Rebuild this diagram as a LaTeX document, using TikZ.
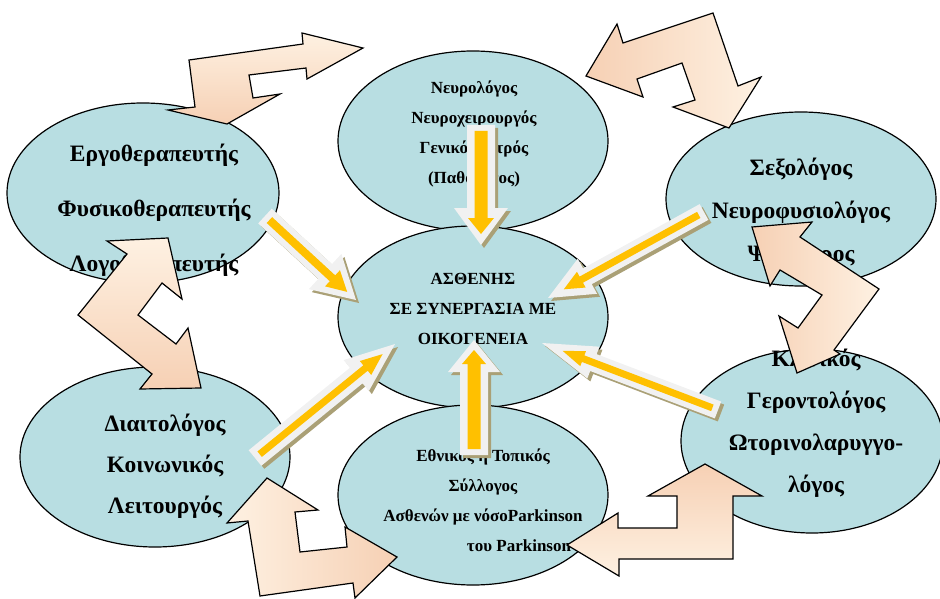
\documentclass[tikz,border=0pt]{standalone}
\usepackage{fontspec}
\setmainfont{Liberation Serif}
\usetikzlibrary{calc,shapes.geometric}

\definecolor{ovalblue}{RGB}{184,222,226}
\definecolor{peachdark}{RGB}{246,208,180}
\definecolor{peachlight}{RGB}{254,241,226}
\definecolor{glowgray}{RGB}{241,241,241}
\definecolor{glowtan}{RGB}{170,160,118}
\definecolor{coreyellow}{RGB}{255,192,0}

\tikzset{
  oval/.style={ellipse, draw=black, line width=1.2pt, fill=ovalblue, inner sep=0pt},
  bigtext/.style={align=center, font=\bfseries\fontsize{23.5}{#1}\selectfont},
  smalltext/.style={align=center, font=\bfseries\fontsize{17}{30}\selectfont},
  bentarrow/.style={draw=black, line width=1.2pt, line join=miter},
}

% outline of a block arrow: tail #1, tip #2, head base #3, shaft half width #4, head half width #5
\newcommand\arrowoutline[5]{($(#1)!#4pt!90:(#2)$) -- ($(#3)!#4pt!90:(#2)$) -- ($(#3)!#5pt!90:(#2)$) -- (#2) -- ($(#3)!#5pt!-90:(#2)$) -- ($(#3)!#4pt!-90:(#2)$) -- ($(#1)!#4pt!-90:(#2)$) -- cycle}

% glowing arrow: tail, tip, shaft/2, head/2, head length, core shaft/2, core head/2, core head length, core tip inset
\newcommand\glowarrow[9]{%
  \coordinate (gh) at ($(#2)!#5pt!(#1)$);
  \coordinate (gt) at ($(#2)!#9pt!(#1)$);
  \coordinate (gs) at ($(#1)!6pt!(#2)$);
  \coordinate (gi) at ($(gt)!#8pt!(#1)$);
  \begin{scope}[transform canvas={shift={(3pt,-3pt)}}]
    \fill[glowtan] \arrowoutline{#1}{#2}{gh}{#3}{#4};
  \end{scope}
  \fill[glowgray] \arrowoutline{#1}{#2}{gh}{#3}{#4};
  \fill[coreyellow] \arrowoutline{gs}{gt}{gi}{#6}{#7};
}

\begin{document}
\begin{tikzpicture}[x=1pt,y=-1pt]
\useasboundingbox (0,0) rectangle (940,599);
\clip (0,0) rectangle (940,599);

% team members around the patient
\node[oval, minimum width=272pt, minimum height=180pt] (ergo) at (143,193) {};
\node[oval, minimum width=270pt, minimum height=180pt] (neuro) at (473,141) {};
\node[oval, minimum width=270pt, minimum height=174pt] (sexo) at (801,199) {};
\node[oval, minimum width=270pt, minimum height=182pt] (patient) at (473,317) {};
\node[oval, minimum width=270pt, minimum height=180pt] (diet) at (155,457) {};
\node[oval, minimum width=270pt, minimum height=180pt] (assoc) at (473,495) {};
\node[oval, minimum width=262pt, minimum height=184pt] (geront) at (812,441) {};

\node[bigtext=55] (t-ergo) at (154,210) {Εργοθεραπευτής\\Φυσικοθεραπευτής\\Λογοθεραπευτής};
\node[smalltext] (t-neuro) at (474,134) {Νευρολόγος\\Νευροχειρουργός\\Γενικός Ιατρός\\(Παθολόγος)};
\node[smalltext] (t-patient) at (473,309) {ΑΣΘΕΝΗΣ\\ΣΕ ΣΥΝΕΡΓΑΣΙΑ ΜΕ\\ΟΙΚΟΓΕΝΕΙΑ};
\node[smalltext] (t-assoc) at (483,500) {Εθνικός ή Τοπικός\\Σύλλογος\\Ασθενών με νόσοParkinson\\\hspace*{72pt}του Parkinson};
\node[bigtext=43] (t-sexo) at (801,212) {Σεξολόγος\\Νευροφυσιολόγος\\Ψυχίατρος};
\node[bigtext=42] (t-geront) at (816,423) {Κλινικός\\Γεροντολόγος\\Ωτορινολαρυγγο-\\λόγος};
\node[bigtext=41] (t-diet) at (165,466) {Διαιτολόγος\\Κοινωνικός\\Λειτουργός};

% bent two-headed links between neighbouring members
\path[bentarrow, top color=peachlight, bottom color=peachdark]
  (363,48) -- (307,79) -- (306,68) -- (249,75) -- (253,98) -- (280,94) -- (227,124)
  -- (168,110) -- (195,107) -- (189,60) -- (303,44) -- (302,33) -- cycle;
\path[bentarrow, left color=peachdark, right color=peachlight]
  (586,76) -- (617,24) -- (623,43) -- (713,13) -- (738,86) -- (761,77) -- (729,128)
  -- (673,107) -- (695,100) -- (682,63) -- (637,79) -- (643,97) -- cycle;
\path[bentarrow, top color=peachlight, bottom color=peachdark]
  (107,241) -- (168,238) -- (182,299) -- (162,283) -- (138,315) -- (176,344) -- (188,328)
  -- (201,388) -- (140,389) -- (152,374) -- (78,315) -- (127,254) -- cycle;
\path[bentarrow, left color=peachdark, right color=peachlight]
  (752,227) -- (812,222) -- (800,237) -- (879,289) -- (834,350) -- (840,354) -- (797,373)
  -- (779,316) -- (798,328) -- (822,295) -- (780,270) -- (770,286) -- cycle;
\path[bentarrow, left color=peachlight, right color=peachdark]
  (267,478) -- (318,510) -- (295,512) -- (300,552) -- (347,547) -- (345,527) -- (397,557)
  -- (355,598) -- (353,583) -- (260,596) -- (248,521) -- (227,523) -- cycle;
\path[bentarrow, top color=peachdark, bottom color=peachlight]
  (567,545) -- (618,513) -- (618,528) -- (677,528) -- (677,496) -- (648,496) -- (705,464)
  -- (762,496) -- (733,496) -- (733,559) -- (619,559) -- (619,576) -- cycle;

% glowing arrows pointing at the patient
\coordinate (neuro-out) at (481,125);   \coordinate (patient-n) at (481,245);
\coordinate (ergo-out) at (265,216);    \coordinate (patient-nw) at (356,300);
\coordinate (sexo-out) at (704,212);    \coordinate (patient-ne) at (548,298);
\coordinate (diet-out) at (255,458);    \coordinate (patient-sw) at (395,344);
\coordinate (assoc-out) at (474,455);   \coordinate (patient-s) at (474,340);
\coordinate (geront-out) at (718,410);  \coordinate (patient-se) at (542,343);

\glowarrow{neuro-out}{patient-n}{14}{27}{37}{6.5}{13}{16}{11}
\glowarrow{ergo-out}{patient-nw}{10}{24}{42}{4}{11}{20}{12}
\glowarrow{sexo-out}{patient-ne}{9}{20}{45}{3.5}{9}{20}{18}
\glowarrow{diet-out}{patient-sw}{10}{20}{50}{3.5}{9}{22}{16}
\glowarrow{assoc-out}{patient-s}{14}{26}{32}{6.5}{12}{14}{10}
\glowarrow{geront-out}{patient-se}{9}{17}{55}{3.5}{8}{22}{22}
\end{tikzpicture}
\end{document}
